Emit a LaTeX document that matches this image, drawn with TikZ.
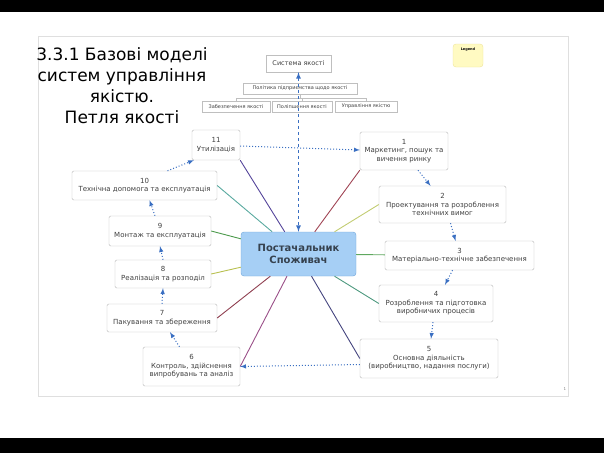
\documentclass[tikz,border=0pt]{standalone}
\usepackage{fontspec}
\setmainfont{DejaVu Sans}
\usepackage{tikz}
\usetikzlibrary{positioning, arrows}
\usepackage{xcolor}

\definecolor{flowblue}{HTML}{3A6FC2}
\definecolor{hubfill}{HTML}{A6CFF5}
\definecolor{hubline}{HTML}{6FA6DA}
\definecolor{hubtext}{HTML}{36424F}
\definecolor{legfill}{HTML}{FFFAC2}
\definecolor{legline}{HTML}{EEE39A}
\definecolor{sp1}{HTML}{A04454}
\definecolor{sp2}{HTML}{C2CC72}
\definecolor{sp3}{HTML}{5FA85F}
\definecolor{sp4}{HTML}{4F9A80}
\definecolor{sp5}{HTML}{45457F}
\definecolor{sp6}{HTML}{9A4F88}
\definecolor{sp7}{HTML}{8F3F50}
\definecolor{sp8}{HTML}{B8C050}
\definecolor{sp9}{HTML}{4C9A4C}
\definecolor{sp10}{HTML}{5AAAA0}
\definecolor{sp11}{HTML}{54449A}

\begin{document}
\begin{tikzpicture}[x=1pt, y=-1pt,
		stage/.style={draw=gray!55, rounded corners=1.5pt, fill=white, align=center, text=black!75, font=\fontsize{7}{8.5}\selectfont, inner sep=1pt},
		hub/.style={draw=hubline, fill=hubfill, rounded corners=3pt, align=center, text=hubtext, font=\bfseries\fontsize{10}{12.5}\selectfont},
		org/.style={draw=gray!50, fill=white, text=black!75, font=\fontsize{5}{6}\selectfont, inner sep=1pt},
		flow/.style={->, >=latex, dotted, line width=1pt, flowblue},
		spoke/.style={line width=0.9pt}]
			\useasboundingbox (0,0) rectangle (604,453);
			\fill[black] (0,0) rectangle (604,12);
			\fill[black] (0,438) rectangle (604,453);
			\draw[gray!25] (38,36) rectangle (568,396);
			
			\node[font=\fontsize{17}{21}\selectfont, align=center] (title) at (122,86) {3.3.1 Базові моделі\\систем управління\\якістю.\\Петля якості};
			\node[draw=legline, fill=legfill, rounded corners=3pt, minimum width=30, minimum height=23,
				label={[anchor=north, yshift=-1, font=\bfseries\fontsize{3.5}{4}\selectfont]north:Legend}] (legend) at (468,55.5) {};
			\node[font=\fontsize{4}{5}\selectfont, text=gray] (page) at (565,389) {1};
			
			% quality system
			\node[org, font=\fontsize{6.5}{8}\selectfont, minimum width=65, minimum height=17] (sys) at (298.5,63.5) {Система якості};
			\node[org, minimum width=114, minimum height=11] (pol) at (300,88.5) {Політика підприємства щодо якості};
			\node[org, minimum width=68, minimum height=11] (zab) at (236,106.5) {Забезпечення якості};
			\node[org, minimum width=60, minimum height=11] (pol2) at (302,106.5) {Поліпшення якості};
			\node[org, minimum width=62, minimum height=11] (upr) at (366,106.5) {Управління якістю};
			\draw[gray!50] (pol.south) -- ++(0,4) -| (zab.north);
			\draw[gray!50] (pol.south) -- ++(0,4) -| (upr.north);
			\draw[gray!50] (pol2.north) -- ++(0,-3);
			
			% loop stages
			\node[hub, minimum width=115, minimum height=44] (c) at (298.5,254) {Постачальник\\Споживач};
			\node[stage, minimum width=88, minimum height=38] (s1) at (404,151) {1\\Маркетинг, пошук та\\вичення ринку};
			\node[stage, minimum width=127, minimum height=37] (s2) at (442.5,204.5) {2\\Проектування та розроблення\\технічних вимог};
			\node[stage, minimum width=149, minimum height=29] (s3) at (459.5,255.5) {3\\Матеріально-технічне забезпечення};
			\node[stage, minimum width=114, minimum height=37] (s4) at (436,303.5) {4\\Розроблення та підготовка\\виробничих процесів};
			\node[stage, minimum width=138, minimum height=39] (s5) at (429,358.5) {5\\Основна діяльність\\(виробництво, надання послуги)};
			\node[stage, minimum width=97, minimum height=39] (s6) at (191.5,366.5) {6\\Контроль, здійснення\\випробувань та аналіз};
			\node[stage, minimum width=110, minimum height=28] (s7) at (162,318) {7\\Пакування та збереження};
			\node[stage, minimum width=96, minimum height=28] (s8) at (163,274) {8\\Реалізація та розподіл};
			\node[stage, minimum width=102, minimum height=30] (s9) at (160,231) {9\\Монтаж та експлуатація};
			\node[stage, minimum width=145, minimum height=29] (s10) at (144.5,185.5) {10\\Технічна допомога та експлуатація};
			\node[stage, minimum width=48, minimum height=30] (s11) at (216,145) {11\\Утилізація};
			
			\draw (c) edge[spoke, sp1] (s1.south west);
			\draw (c) edge[spoke, sp2] (s2.west);
			\draw (c) edge[spoke, sp3] (s3);
			\draw (c) edge[spoke, sp4] (s4.west);
			\draw (c) edge[spoke, sp5] (s5.west);
			\draw (c) edge[spoke, sp6] (s6.east);
			\draw (c) edge[spoke, sp7] (s7.east);
			\draw (c) edge[spoke, sp8] (s8.east);
			\draw (c) edge[spoke, sp9] (s9.east);
			\draw (c) edge[spoke, sp10] (s10.east);
			\draw (c) edge[spoke, sp11] (s11.south east);
			
			\draw ([yshift=-1]s11.east) edge[flow] ([yshift=1]s1.west);
			\draw ([xshift=14]s1.south) edge[flow] ([xshift=-12]s2.north);
			\draw ([xshift=8]s2.south) edge[flow] ([xshift=-4]s3.north);
			\draw ([xshift=-7]s3.south) edge[flow] ([xshift=9]s4.north);
			\draw ([xshift=-3]s4.south) edge[flow] ([xshift=2]s5.north);
			\draw ([yshift=-6]s5.west) edge[flow] (s6.east);
			\draw ([xshift=-12]s6.north) edge[flow] ([xshift=8]s7.south);
			\draw (s7.north) edge[flow] (s8.south);
			\draw (s8.north) edge[flow] (s9.south);
			\draw ([xshift=-5]s9.north) edge[flow] ([xshift=5]s10.south);
			\draw ([xshift=23]s10.north) edge[flow] ([xshift=2]s11.south west);
			
			\draw (sys.south) edge[latex-latex, dashed, line width=1.2pt, flowblue] (c.north);
		\end{tikzpicture}
\end{document}
